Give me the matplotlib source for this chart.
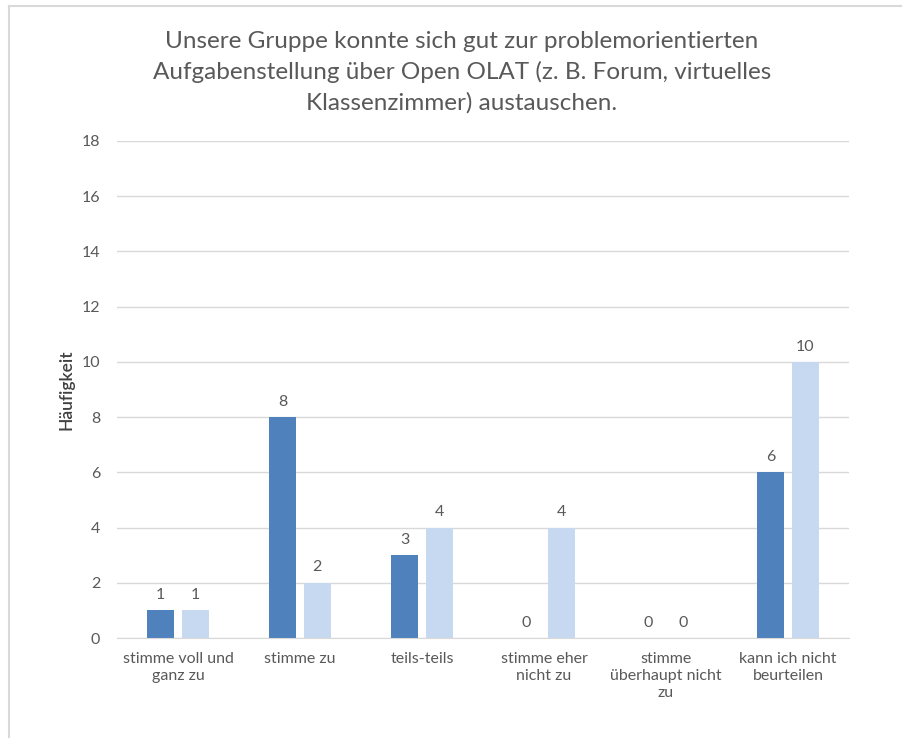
import numpy as np
import matplotlib
matplotlib.use("Agg")
import matplotlib.pyplot as plt
from matplotlib.lines import Line2D

# ======================
# DATA
# ======================
categories = ["stimme voll und\nganz zu", "stimme zu", "teils-teils",
              "stimme eher\nnicht zu", "stimme\nüberhaupt nicht\nzu",
              "kann ich nicht\nbeurteilen"]
series_a = [1, 8, 3, 0, 0, 6]
series_b = [1, 2, 4, 4, 0, 10]

TITLE = ("Unsere Gruppe konnte sich gut zur problemorientierten\n"
         "Aufgabenstellung über Open OLAT (z. B. Forum, virtuelles\n"
         "Klassenzimmer) austauschen.")

DARK = "#4F81BD"
LIGHT = "#C6D9F1"
GRAY = "#595959"

plt.rcParams['font.family'] = ['Lato', 'DejaVu Sans']

fig = plt.figure(figsize=(9.03, 7.38), dpi=100)
ax = fig.add_axes([117/903, 1 - 638/738, (849-117)/903, (638-141)/738])

x = np.arange(len(categories))
w = 0.22
off = 0.142
b1 = ax.bar(x - off, series_a, width=w, color=DARK)
b2 = ax.bar(x + off, series_b, width=w, color=LIGHT)

for bars in (b1, b2):
    for r in bars:
        ax.annotate(f"{int(r.get_height())}",
                    (r.get_x() + r.get_width()/2, r.get_height()),
                    xytext=(0, 6), textcoords="offset points",
                    ha="center", va="bottom", fontsize=11.5, color=GRAY)

ax.set_xlim(-0.5, len(categories) - 0.5)
ax.set_ylim(0, 18)
ax.set_yticks(range(0, 19, 2))
ax.yaxis.grid(True, color="#D9D9D9", linewidth=1)
ax.set_axisbelow(True)
for s in ["top", "right", "left"]:
    ax.spines[s].set_visible(False)
ax.spines["bottom"].set_color("#D9D9D9")
ax.tick_params(axis="both", length=0, colors=GRAY, labelsize=11.5)
ax.tick_params(axis="y", pad=12)
ax.tick_params(axis="x", pad=10)
ax.set_xticks(x)
ax.set_xticklabels(categories, color=GRAY, linespacing=1.3)
ax.set_ylabel("Häufigkeit", fontsize=12.5, color="#404040", fontweight="semibold", labelpad=5)

fig.text(462/903, 1 - 72/738, TITLE, ha="center", va="center", fontsize=17.5,
         color=GRAY, linespacing=1.5)

# chart frame (left and top edges visible)
fig.add_artist(Line2D([9/903, 9/903], [0, 1 - 6/738], transform=fig.transFigure,
                      color="#D9D9D9", linewidth=1.5))
fig.add_artist(Line2D([9/903, 1], [1 - 6/738, 1 - 6/738], transform=fig.transFigure,
                      color="#D9D9D9", linewidth=1.5))

fig.savefig("out.png", dpi=100)
